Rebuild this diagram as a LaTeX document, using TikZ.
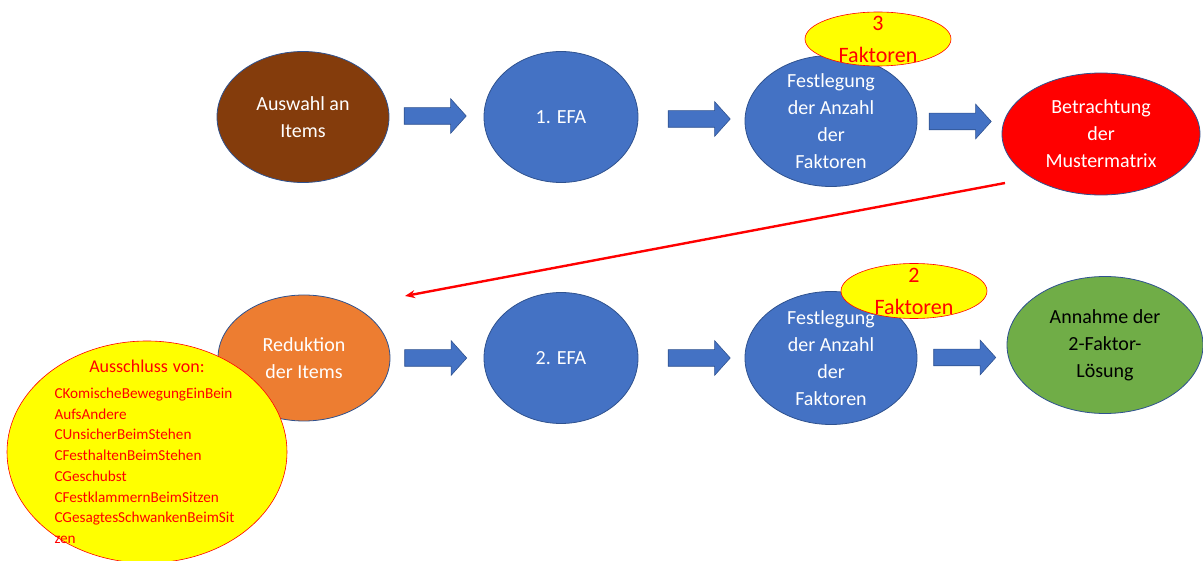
\documentclass[tikz,border=0pt]{standalone}
\usepackage{fontspec}
\setmainfont{Carlito}
\usetikzlibrary{shapes.geometric, shapes.arrows, arrows.meta, calc}
\definecolor{brownbg}{HTML}{843C0C}
\definecolor{bluebg}{HTML}{4472C4}
\definecolor{outline}{HTML}{2F528F}
\definecolor{orangebg}{HTML}{ED7D31}
\definecolor{greenbg}{HTML}{70AD47}
\definecolor{notebg}{HTML}{FFFF00}
\definecolor{alarm}{HTML}{FF0000}

\begin{document}
\begin{tikzpicture}[
    x=1pt, y=-1pt,
    >=Stealth,
    stage/.style={
        ellipse, draw=outline, line width=0.8pt, inner sep=-30pt,
        minimum width=172pt, minimum height=131pt, align=center,
        text=white, font=\fontsize{20}{27}\selectfont
    },
    note/.style={
        ellipse, draw=alarm, fill=notebg, line width=0.6pt, inner sep=-30pt,
        minimum width=146pt, minimum height=54pt, align=center,
        text=alarm, font=\fontsize{22}{32}\selectfont
    },
    blockarrow/.style={
        single arrow, draw=outline, fill=bluebg, line width=0.6pt,
        inner xsep=0pt, inner ysep=8pt, minimum height=62pt, minimum width=34pt,
        single arrow head extend=9pt, single arrow tip angle=96
    },
]

\useasboundingbox (0, 0) rectangle (1203, 561);

% Top row
\node[stage, fill=brownbg] (auswahl) at (303, 117) {Auswahl an\\Items};
\node[stage, fill=bluebg, minimum width=154pt] (efa1) at (561, 117) {1. EFA};
\node[stage, fill=bluebg] (festl1) at (831, 121) {Festlegung\\der Anzahl\\der\\Faktoren};
\node[stage, fill=alarm, minimum width=198pt, minimum height=122pt] (betr)
    at (1101, 134) {Betrachtung\\der\\Mustermatrix};

% Note above first Festlegung
\node[note] (drei) at (878, 39) {3\\Faktoren};

% Arrows top row
\node[blockarrow, xshift=-5pt, yshift=1pt] (pfeil1) at ($(auswahl.east)!0.5!(efa1.west)$) {};
\node[blockarrow, xshift=4pt] (pfeil2) at ($(efa1.east)!0.5!(festl1.west)$) {};
\node[blockarrow, xshift=-3pt, yshift=6pt] (pfeil3) at ($(festl1.east)!0.5!(betr.west)$) {};

% Bottom row
\node[stage, fill=orangebg, minimum height=126pt] (reduktion) at (304, 358)
    {Reduktion\\der Items};
\node[stage, fill=bluebg, minimum width=154pt] (efa2) at (561, 358) {2. EFA};
\node[stage, fill=bluebg, minimum height=133pt] (festl2) at (831, 358)
    {Festlegung\\der Anzahl\\der\\Faktoren};
\node[stage, fill=greenbg, text=black, minimum width=196pt, minimum height=137pt]
    (annahme) at (1105, 345) {Annahme der\\2-Faktor-\\Lösung};

% Note above second Festlegung
\node[note, minimum height=55pt] (zwei) at (914, 291) {2\\Faktoren};

% Excluded items
\node[note, minimum width=280pt, minimum height=222pt, text width=185pt,
      align=left, font=\fontsize{15.2}{20.7}\selectfont] (ausschluss) at (147, 452)
    {\makebox[185pt][c]{\fontsize{18}{22}\selectfont Ausschluss von:}\\[5pt]
     CKomischeBewegungEinBein\\
     AufsAndere\\
     CUnsicherBeimStehen\\
     CFesthaltenBeimStehen\\
     CGeschubst\\
     CFestklammernBeimSitzen\\
     CGesagtesSchwankenBeimSit\\
     zen};

% Arrows bottom row
\node[blockarrow, xshift=-5pt] (pfeil4) at ($(reduktion.east)!0.5!(efa2.west)$) {};
\node[blockarrow, xshift=4pt] (pfeil5) at ($(efa2.east)!0.5!(festl2.west)$) {};
\node[blockarrow, xshift=-1pt, yshift=-6pt] (pfeil6) at ($(festl2.east)!0.5!(annahme.west)$) {};

% Back to the item reduction
\coordinate (rueckstart) at (1005, 183);
\coordinate (rueckende) at (405, 296);
\draw[-{Stealth[length=10pt, width=8pt]}, alarm, line width=2.4pt]
    (rueckstart) -- (rueckende);

\end{tikzpicture}
\end{document}
